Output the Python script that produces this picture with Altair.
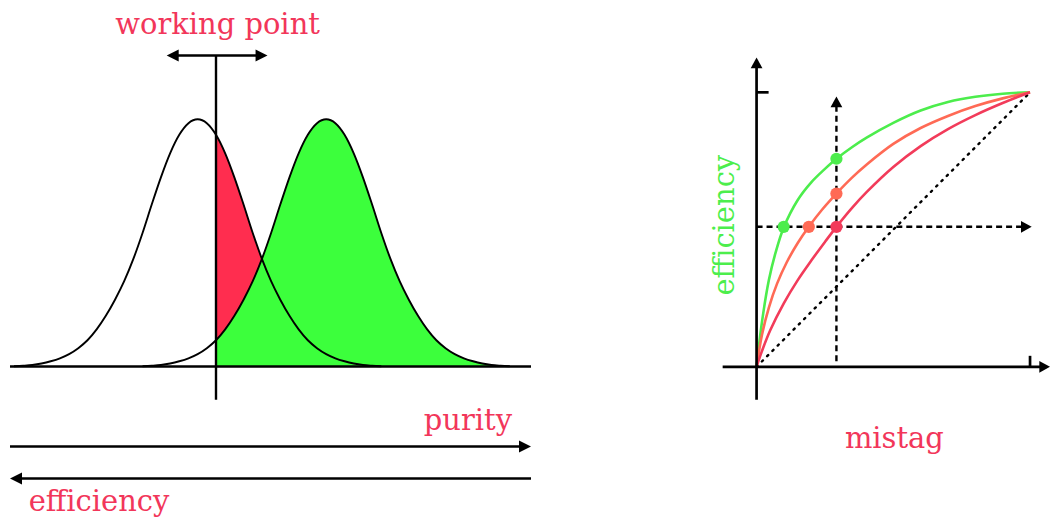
import altair as alt
import pandas as pd

# ---------------- left panel: two score distributions ----------------
# relative height of each distribution, read at steps of one score unit from its peak
shape_half = [1.0, 0.984, 0.937, 0.862, 0.765, 0.655, 0.54, 0.435, 0.345, 0.27,
              0.205, 0.150, 0.106, 0.074, 0.050, 0.033, 0.021, 0.012, 0.006, 0.003, 0.001]
background_peak = 0
signal_peak = 14
working_point = 2
score_min, score_max = -20.435, 36.304
height_min, height_max = -0.607, 1.448

# ---------------- right panel: efficiency vs mistag ----------------
green_mistag = [0, 0.02, 0.045, 0.07, 0.099, 0.15, 0.2, 0.25, 0.292, 0.35, 0.404, 0.5, 0.6, 0.7, 0.8, 0.9, 1.0]
green_eff = [0, 0.165, 0.316, 0.418, 0.507, 0.607, 0.672, 0.721, 0.758, 0.801, 0.836, 0.889, 0.934, 0.965, 0.984, 0.995, 1.0]
orange_mistag = [0, 0.02, 0.045, 0.075, 0.11, 0.15, 0.191, 0.24, 0.292, 0.35, 0.404, 0.5, 0.6, 0.7, 0.8, 0.9, 1.0]
orange_eff = [0, 0.118, 0.216, 0.303, 0.38, 0.45, 0.51, 0.573, 0.631, 0.690, 0.738, 0.812, 0.87, 0.914, 0.950, 0.978, 1.0]
red_mistag = [0, 0.02, 0.05, 0.1, 0.15, 0.2, 0.25, 0.292, 0.35, 0.404, 0.5, 0.6, 0.7, 0.8, 0.9, 1.0]
red_eff = [0, 0.058, 0.133, 0.232, 0.315, 0.387, 0.455, 0.51, 0.58, 0.638, 0.728, 0.804, 0.866, 0.917, 0.961, 1.0]
dot_mistag = [0.099, 0.191, 0.292, 0.292, 0.292]
dot_eff = [0.51, 0.51, 0.51, 0.631, 0.758]
dot_curve = ["green", "orange", "red", "orange", "green"]
fixed_mistag = 0.292
fixed_eff = 0.51
mistag_min, mistag_max = -0.2774, 1.073
eff_min, eff_max = -0.5455, 1.3055

TEXT_RED = "#f2365a"
FONT = "DejaVu Serif"
FS = 29
RIGHT_ARROW = "M0,0 L-1,-0.5 L-1,0.5 Z"
LEFT_ARROW = "M0,0 L1,-0.5 L1,0.5 Z"
UP_ARROW = "M0,0 L-0.55,1 L0.55,1 Z"

LW, LH = 522, 509
RW, RH = 370, 509

def h(k):
    k = abs(k)
    return shape_half[k] if k < len(shape_half) else 0.0

rows = []
for k in range(-20, 21):
    rows.append({"u": background_peak + k, "h": h(k), "curve": "background"})
    rows.append({"u": signal_peak + k, "h": h(k), "curve": "signal"})
curves = pd.DataFrame(rows)

green_fill = pd.DataFrame([{"u": u, "top": h(u - signal_peak), "bot": 0.0}
                           for u in range(working_point, signal_peak + 21)])
cross = (background_peak + signal_peak) // 2
red_fill = pd.DataFrame([{"u": u, "top": h(u - background_peak), "bot": h(u - signal_peak)}
                         for u in range(working_point, cross + 1)])

lx = alt.Scale(domain=[score_min, score_max], nice=False, zero=False)
ly = alt.Scale(domain=[height_min, height_max], nice=False, zero=False)

top_arrow_y = 1.258
purity_y = -0.324
eff_y = -0.453
wp_left, wp_right = -3.37, 7.61
head = 12 / 9.2

left_rules = pd.DataFrame([
    {"x": score_min, "x2": score_max, "y": 0, "y2": 0},
    {"x": working_point, "x2": working_point, "y": -0.1344, "y2": top_arrow_y},
    {"x": wp_left + head * 0.8, "x2": wp_right - head * 0.8, "y": top_arrow_y, "y2": top_arrow_y},
    {"x": score_min, "x2": score_max - head * 0.8, "y": purity_y, "y2": purity_y},
    {"x": score_min + head * 0.8, "x2": score_max, "y": eff_y, "y2": eff_y},
])
right_heads_l = pd.DataFrame({"x": [wp_right, score_max], "y": [top_arrow_y, purity_y]})
left_heads_l = pd.DataFrame({"x": [wp_left, score_min], "y": [top_arrow_y, eff_y]})
left_texts = pd.DataFrame({
    "x": [2.17, 34.24, -18.4],
    "y": [1.343, -0.2556, -0.5866],
    "t": ["working point", "purity", "efficiency"],
    "a": ["center", "right", "left"],
})

green_area = alt.Chart(green_fill).mark_area(color="#3cff3c", interpolate="monotone", opacity=1).encode(
    x=alt.X("u:Q", scale=lx, axis=None), y=alt.Y("top:Q", scale=ly, axis=None), y2="bot:Q")
red_area = alt.Chart(red_fill).mark_area(color="#ff2d4f", interpolate="monotone", opacity=1).encode(
    x=alt.X("u:Q", scale=lx, axis=None), y=alt.Y("top:Q", scale=ly, axis=None), y2="bot:Q")
gauss = alt.Chart(curves).mark_line(color="black", strokeWidth=1.9, interpolate="monotone").encode(
    x=alt.X("u:Q", scale=lx, axis=None), y=alt.Y("h:Q", scale=ly, axis=None), detail="curve:N")
lrules = alt.Chart(left_rules).mark_rule(color="black", strokeWidth=2.4).encode(
    x=alt.X("x:Q", scale=lx, axis=None), x2="x2:Q",
    y=alt.Y("y:Q", scale=ly, axis=None), y2="y2:Q")
lrh = alt.Chart(right_heads_l).mark_point(shape=RIGHT_ARROW, filled=True, size=576, color="black",
                                          opacity=1, strokeWidth=0).encode(
    x=alt.X("x:Q", scale=lx, axis=None), y=alt.Y("y:Q", scale=ly, axis=None))
llh = alt.Chart(left_heads_l).mark_point(shape=LEFT_ARROW, filled=True, size=576, color="black",
                                         opacity=1, strokeWidth=0).encode(
    x=alt.X("x:Q", scale=lx, axis=None), y=alt.Y("y:Q", scale=ly, axis=None))
ltexts = [
    alt.Chart(left_texts[left_texts.a == a]).mark_text(font=FONT, fontSize=FS, color=TEXT_RED,
                                                      align=a, baseline="alphabetic").encode(
        x=alt.X("x:Q", scale=lx, axis=None), y=alt.Y("y:Q", scale=ly, axis=None), text="t:N")
    for a in ["center", "right", "left"]
]
left = alt.layer(green_area, red_area, gauss, lrules, lrh, llh, *ltexts).properties(width=LW, height=LH)

# ---------------- right panel build ----------------
rx = alt.Scale(domain=[mistag_min, mistag_max], nice=False, zero=False)
ry = alt.Scale(domain=[eff_min, eff_max], nice=False, zero=False)

roc = pd.concat([
    pd.DataFrame({"m": green_mistag, "e": green_eff, "curve": "green"}),
    pd.DataFrame({"m": orange_mistag, "e": orange_eff, "curve": "orange"}),
    pd.DataFrame({"m": red_mistag, "e": red_eff, "curve": "red"}),
])
dots = pd.DataFrame({"m": dot_mistag, "e": dot_eff, "curve": dot_curve})

y_tip = 1.127
x_tip = mistag_max
solid = pd.DataFrame([
    {"x": 0, "x2": 0, "y": -0.12, "y2": y_tip - 0.035},
    {"x": -0.124, "x2": x_tip - 0.03, "y": 0, "y2": 0},
    {"x": 0, "x2": 0.044, "y": 1, "y2": 1},
    {"x": 1, "x2": 1, "y": 0, "y2": 0.04},
])
dashed = pd.DataFrame([
    {"x": fixed_mistag, "x2": fixed_mistag, "y": 0.02, "y2": 0.95},
    {"x": 0, "x2": 0.975, "y": fixed_eff, "y2": fixed_eff},
])
dotted = pd.DataFrame([{"x": 0, "x2": 1, "y": 0, "y2": 1}])
up_heads = pd.DataFrame({"x": [0, fixed_mistag], "y": [y_tip, 0.985]})
rt_heads = pd.DataFrame({"x": [x_tip, 1.006], "y": [0, fixed_eff]})

def rr(df, **kw):
    return alt.Chart(df).mark_rule(color="black", **kw).encode(
        x=alt.X("x:Q", scale=rx, axis=None), x2="x2:Q",
        y=alt.Y("y:Q", scale=ry, axis=None), y2="y2:Q")

curve_colors = alt.Scale(domain=["green", "orange", "red"], range=["#4ced4c", "#ff6a55", "#f23b5a"])
dot_colors = alt.Scale(domain=["green", "orange", "red"], range=["#2ecc30", "#ff5544", "#f5304f"])

r_dotted = rr(dotted, strokeWidth=2.4, strokeDash=[1.5, 6], strokeCap="round")
r_dashed = rr(dashed, strokeWidth=2.4, strokeDash=[6, 4])
r_solid = rr(solid, strokeWidth=2.7)
r_curves = alt.Chart(roc).mark_line(strokeWidth=2.6, interpolate="catmull-rom").encode(
    x=alt.X("m:Q", scale=rx, axis=None), y=alt.Y("e:Q", scale=ry, axis=None),
    color=alt.Color("curve:N", scale=curve_colors, legend=None))
r_dots = alt.Chart(dots).mark_circle(size=150, opacity=1).encode(
    x=alt.X("m:Q", scale=rx, axis=None), y=alt.Y("e:Q", scale=ry, axis=None),
    color=alt.Color("curve:N", scale=dot_colors, legend=None))
r_up = alt.Chart(up_heads).mark_point(shape=UP_ARROW, filled=True, size=460, color="black",
                                      opacity=1, strokeWidth=0).encode(
    x=alt.X("x:Q", scale=rx, axis=None), y=alt.Y("y:Q", scale=ry, axis=None))
r_rt = alt.Chart(rt_heads).mark_point(shape="M0,0 L-1,-0.55 L-1,0.55 Z", filled=True, size=460,
                                      color="black", opacity=1, strokeWidth=0).encode(
    x=alt.X("x:Q", scale=rx, axis=None), y=alt.Y("y:Q", scale=ry, axis=None))
r_mistag = alt.Chart(pd.DataFrame({"x": [0.504], "y": [-0.296], "t": ["mistag"]})).mark_text(
    font=FONT, fontSize=FS, color=TEXT_RED, align="center", baseline="alphabetic").encode(
    x=alt.X("x:Q", scale=rx, axis=None), y=alt.Y("y:Q", scale=ry, axis=None), text="t:N")
r_eff = alt.Chart(pd.DataFrame({"x": [-0.084], "y": [0.516], "t": ["efficiency"]})).mark_text(
    font=FONT, fontSize=FS, color="#4cee4c", align="center", baseline="alphabetic", angle=270).encode(
    x=alt.X("x:Q", scale=rx, axis=None), y=alt.Y("y:Q", scale=ry, axis=None), text="t:N")

right = alt.layer(r_dotted, r_dashed, r_curves, r_solid, r_up, r_rt, r_dots, r_mistag, r_eff).properties(
    width=RW, height=RH)

chart = alt.hconcat(left, right, spacing=150, bounds="flush").properties(
    padding=0
).configure_view(stroke=None)

chart.save("out.html", embed_options={"renderer": "svg", "actions": False})
